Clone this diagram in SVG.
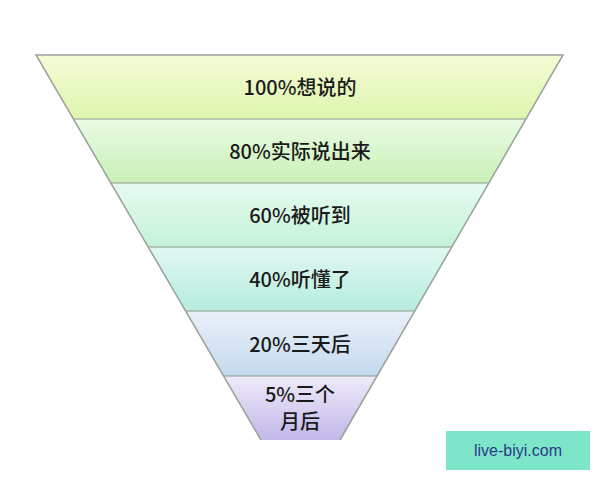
<svg xmlns="http://www.w3.org/2000/svg" width="600" height="480" viewBox="0 0 600 480">
<defs>
<linearGradient id="g1" x1="0" y1="0" x2="0" y2="1"><stop offset="0" stop-color="#f4fcd6"/><stop offset="1" stop-color="#def5ae"/></linearGradient>
<linearGradient id="g2" x1="0" y1="0" x2="0" y2="1"><stop offset="0" stop-color="#eafbe4"/><stop offset="1" stop-color="#c9f0b6"/></linearGradient>
<linearGradient id="g3" x1="0" y1="0" x2="0" y2="1"><stop offset="0" stop-color="#e6fbf0"/><stop offset="1" stop-color="#c4f2d8"/></linearGradient>
<linearGradient id="g4" x1="0" y1="0" x2="0" y2="1"><stop offset="0" stop-color="#e0f8f2"/><stop offset="1" stop-color="#b6ecdf"/></linearGradient>
<linearGradient id="g5" x1="0" y1="0" x2="0" y2="1"><stop offset="0" stop-color="#eaf0f9"/><stop offset="1" stop-color="#c4daee"/></linearGradient>
<linearGradient id="g6" x1="0" y1="0" x2="0" y2="1"><stop offset="0" stop-color="#efeaf9"/><stop offset="1" stop-color="#c2b8e8"/></linearGradient>
<clipPath id="fun"><polygon points="36,55 563,55 340,440 261,440"/></clipPath>
<style>
.t{font-family:"Noto Sans CJK SC","Liberation Sans",sans-serif;font-size:20px;font-weight:500;fill:#1a1a1a;text-anchor:middle}
.d{stroke:#8a9a8a;stroke-width:1.2}
</style>
</defs>
<g clip-path="url(#fun)">
<rect id="b1" x="0" y="55" width="600" height="64" fill="url(#g1)"/>
<rect id="b2" x="0" y="119" width="600" height="64" fill="url(#g2)"/>
<rect id="b3" x="0" y="183" width="600" height="64" fill="url(#g3)"/>
<rect id="b4" x="0" y="247" width="600" height="64" fill="url(#g4)"/>
<rect id="b5" x="0" y="311" width="600" height="65" fill="url(#g5)"/>
<rect id="b6" x="0" y="376" width="600" height="64" fill="url(#g6)"/>
<g class="d">
<line x1="0" y1="119" x2="600" y2="119"/><line x1="0" y1="183" x2="600" y2="183"/>
<line x1="0" y1="247" x2="600" y2="247"/><line x1="0" y1="311" x2="600" y2="311"/>
<line x1="0" y1="376" x2="600" y2="376"/>
</g>
</g>
<polyline points="261,440 36,55 563,55 340,440" fill="none" stroke="#9aa09a" stroke-width="1.5"/>
<text class="t" x="300" y="95">100%想说的</text>
<text class="t" x="300" y="159">80%实际说出来</text>
<text class="t" x="300" y="223">60%被听到</text>
<text class="t" x="300" y="287">40%听懂了</text>
<text class="t" x="300" y="352">20%三天后</text>
<text class="t" x="300" y="402">5%三个</text>
<text class="t" x="300" y="429">月后</text>
<rect x="446" y="431" width="144" height="39" fill="#7ee6c8"/>
<text x="518" y="456" font-family="Liberation Sans,sans-serif" font-size="16" fill="#2a3a8a" text-anchor="middle">live-biyi.com</text>
</svg>
